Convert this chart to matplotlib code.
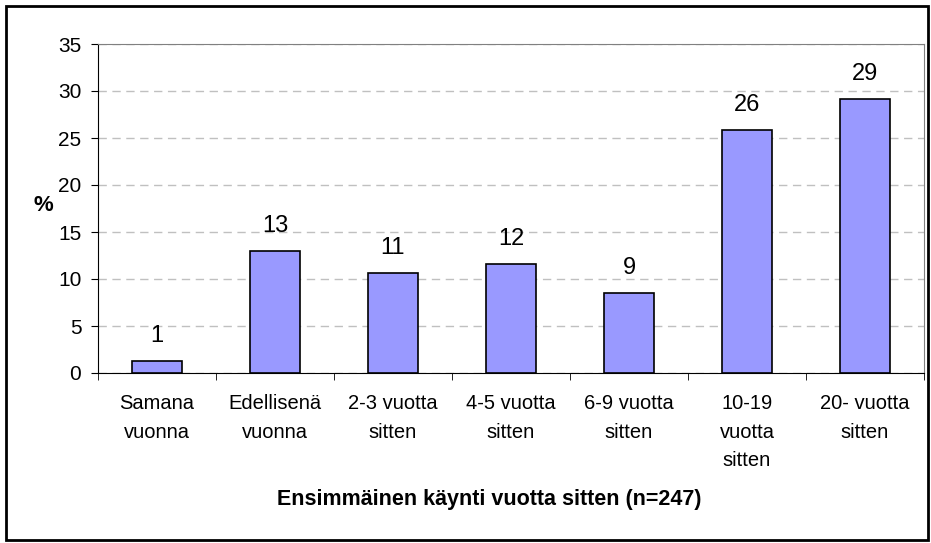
import matplotlib.pyplot as plt
import numpy as np
from matplotlib.patches import Rectangle

plt.rcParams['font.family'] = ['Liberation Sans', 'DejaVu Sans']

categories = ['Samana\nvuonna', 'Edellisenä\nvuonna', '2-3 vuotta\nsitten',
              '4-5 vuotta\nsitten', '6-9 vuotta\nsitten', '10-19\nvuotta\nsitten',
              '20- vuotta\nsitten']
values = [1.3, 13.0, 10.6, 11.6, 8.5, 25.9, 29.2]
labels = ['1', '13', '11', '12', '9', '26', '29']
yticks = [0, 5, 10, 15, 20, 25, 30, 35]

fig = plt.figure(figsize=(9.31, 5.43), dpi=100)
ax = fig.add_axes([98/931, 1 - 373/543, 826/931, 329/543])

x = np.arange(len(categories))
bars = ax.bar(x, values, width=0.42, color='#9999ff', edgecolor='black', linewidth=1.2, zorder=3)

for rect, lab in zip(bars, labels):
    ax.annotate(lab, (rect.get_x() + rect.get_width() / 2, rect.get_height()),
                xytext=(0, 10), textcoords='offset points', ha='center', va='bottom',
                fontsize=17)

ax.set_xlim(-0.5, len(categories) - 0.5)
ax.set_ylim(0, 35)
ax.set_yticks(yticks)
ax.tick_params(axis='y', labelsize=15, length=5, direction='out', pad=7)
ax.set_xticks(x)
ax.set_xticklabels(categories, fontsize=14.5, linespacing=1.65, va='top')
ax.tick_params(axis='x', length=0, pad=15)
ax.set_xticks(np.arange(len(categories) + 1) - 0.5, minor=True)
ax.tick_params(axis='x', which='minor', length=5, direction='out')

ax.yaxis.grid(True, linestyle=(0, (6, 4)), color='#c0c0c0', linewidth=1, zorder=0)
for s in ['top', 'right']:
    ax.spines[s].set_color('#808080')
for s in ['left', 'bottom']:
    ax.spines[s].set_color('black')

fig.text(43/931, 1 - 206/543, '%', fontsize=16, fontweight='bold', ha='center', va='center')
fig.text(489/931, 1 - 499/543, 'Ensimmäinen käynti vuotta sitten (n=247)',
         fontsize=15.5, fontweight='bold', ha='center', va='center')

fig.patches.append(Rectangle((6/931, 3/543), 922/931, 534/543, transform=fig.transFigure,
                             fill=False, edgecolor='black', linewidth=2))

plt.savefig('out.png', dpi=100)
